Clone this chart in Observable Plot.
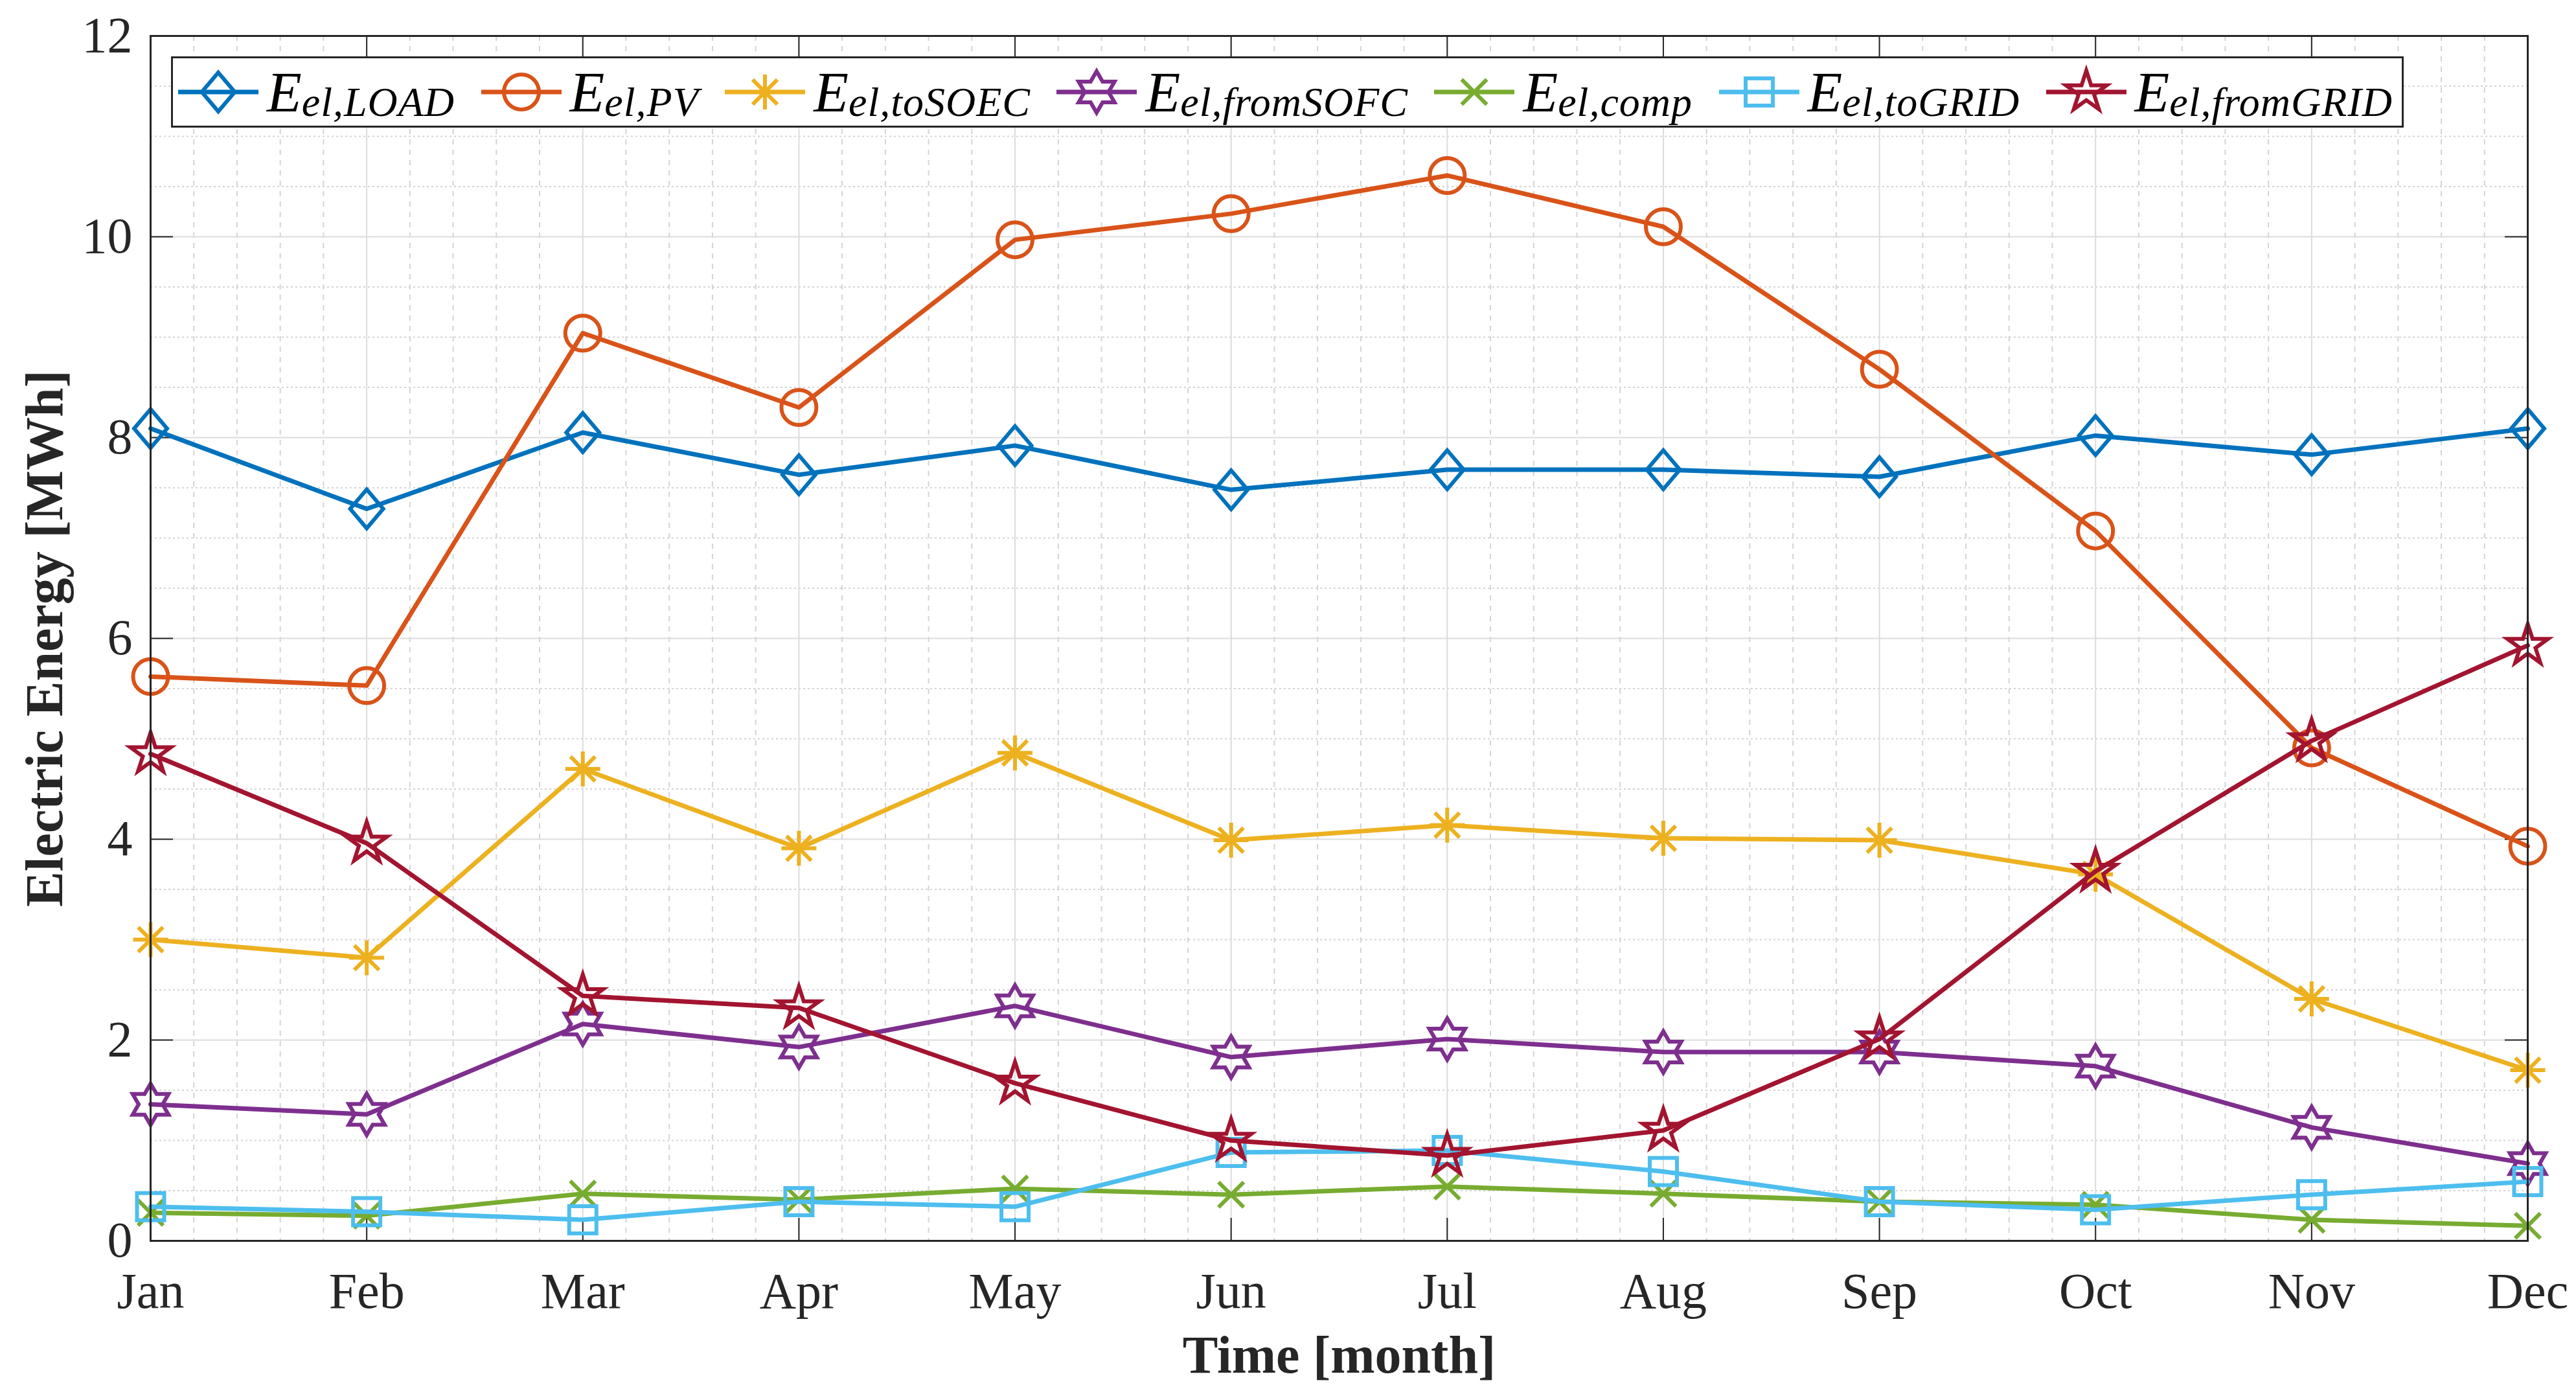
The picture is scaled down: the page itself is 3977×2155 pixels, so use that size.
<!DOCTYPE html>
<html><head><meta charset="utf-8">
<script src="https://cdn.jsdelivr.net/npm/d3@7"></script>
<script src="https://cdn.jsdelivr.net/npm/@observablehq/plot@0.6"></script>
<style>
html,body{margin:0;padding:0;background:#fff;}
#wrap{position:relative;width:3977px;height:2155px;overflow:hidden;background:#fff;}
#legend{position:absolute;left:264px;top:87px;width:3447px;height:110px;box-sizing:border-box;border:3px solid #262626;background:#fff;display:flex;align-items:center;justify-content:space-between;padding:0 14px 0 8px;font-family:"Liberation Serif",serif;font-style:italic;color:#000;}
.item{display:flex;align-items:center;white-space:nowrap;}
.item svg{margin-right:13px;}
.E{font-size:88px;}
.sub{font-size:64px;position:relative;top:16px;letter-spacing:1px;}
</style></head><body><div id="wrap"></div>
<script>
// ---- data ----
const months = ["Jan","Feb","Mar","Apr","May","Jun","Jul","Aug","Sep","Oct","Nov","Dec"];
const eLoad     = [8.09, 7.29, 8.05, 7.63, 7.92, 7.48, 7.68, 7.68, 7.61, 8.02, 7.83, 8.09];
const ePV       = [5.62, 5.53, 9.04, 8.30, 9.97, 10.23, 10.61, 10.10, 8.68, 7.07, 4.91, 3.93];
const eToSOEC   = [3.00, 2.82, 4.70, 3.91, 4.86, 3.99, 4.14, 4.01, 3.99, 3.65, 2.41, 1.70];
const eFromSOFC = [1.36, 1.26, 2.16, 1.93, 2.34, 1.83, 2.01, 1.88, 1.88, 1.74, 1.13, 0.77];
const eComp     = [0.28, 0.25, 0.47, 0.41, 0.52, 0.46, 0.54, 0.47, 0.39, 0.36, 0.21, 0.15];
const eToGRID   = [0.34, 0.29, 0.21, 0.39, 0.34, 0.88, 0.90, 0.69, 0.39, 0.31, 0.46, 0.59];
const eFromGRID = [4.85, 3.96, 2.44, 2.32, 1.57, 1.00, 0.85, 1.10, 2.01, 3.68, 4.98, 5.93];
const seriesSubs = ["el,LOAD","el,PV","el,toSOEC","el,fromSOFC","el,comp","el,toGRID","el,fromGRID"];
const seriesValues = [eLoad, ePV, eToSOEC, eFromSOFC, eComp, eToGRID, eFromGRID];
const yTicks = [0, 2, 4, 6, 8, 10, 12];
const xLabel = "Time [month]";
const yLabel = "Electric Energy [MWh]";

// ---- styles ----
const colors = ["#0072BD","#D95319","#EDB120","#7E2F8E","#77AC30","#4DBEEE","#A2142F"];
function mk(fn){ return {draw(ctx, size){ const r = Math.sqrt(size/Math.PI); fn(ctx, r); }}; }
function star(c, n, R, r0){ for(let k=0;k<2*n;k++){ const a=-Math.PI/2 + k*Math.PI/n; const rr = k%2===0?R:r0; const px=rr*Math.cos(a), py=rr*Math.sin(a); if(k===0) c.moveTo(px,py); else c.lineTo(px,py);} c.closePath(); }
const symDiamond = mk((c,r)=>{c.moveTo(0,-r);c.lineTo(r*0.85,0);c.lineTo(0,r);c.lineTo(-r*0.85,0);c.closePath();});
const symCircle  = mk((c,r)=>{c.moveTo(r,0);c.arc(0,0,r,0,2*Math.PI);c.closePath();});
const symAst     = mk((c,r)=>{for(let k=0;k<4;k++){const a=k*Math.PI/4;c.moveTo(r*Math.cos(a),r*Math.sin(a));c.lineTo(-r*Math.cos(a),-r*Math.sin(a));}});
const symHex     = mk((c,r)=>star(c,6,r,r/Math.sqrt(3)));
const symX       = mk((c,r)=>{const a=r*0.72;c.moveTo(-a,-a);c.lineTo(a,a);c.moveTo(a,-a);c.lineTo(-a,a);});
const symSquare  = mk((c,r)=>{c.moveTo(-r,-r);c.lineTo(r,-r);c.lineTo(r,r);c.lineTo(-r,r);c.closePath();});
const symPenta   = mk((c,r)=>star(c,5,r,r*0.382));
const symbols = [symDiamond, symCircle, symAst, symHex, symX, symSquare, symPenta];
const radii = [30, 27, 27, 32, 27, 21, 33];

const W=3977, H=2155, mL=232, mR=75, mT=55, mB=240;
const plotH = H-mT-mB, plotW = W-mL-mR;
const xIdx = months.map((_,i)=>i);
const xMinor = d3.range(0, 11.001, 0.2).filter(v => Math.abs(v-Math.round(v))>1e-6);
const yMinor = d3.range(0, 12.001, 0.5).filter(v => Math.abs(v/2-Math.round(v/2))>1e-6);

const seriesMarks = seriesValues.flatMap((vals, si) => {
  const d = vals.map((v,i)=>({x:i, y:v}));
  return [
    Plot.line(d, {x:"x", y:"y", stroke: colors[si], strokeWidth: 7, strokeLinejoin:"round"}),
    Plot.dot(d, {x:"x", y:"y", stroke: colors[si], strokeWidth: 6, fill: "none", symbol: symbols[si], r: radii[si]})
  ];
});

const chart = Plot.plot({
  width: W, height: H, marginLeft: mL, marginRight: mR, marginTop: mT, marginBottom: mB,
  style: {fontFamily: '"Liberation Serif", serif', fontSize: "78px", background: "#fff", color: "#262626"},
  x: {domain: [0, 11]},
  y: {domain: [0, 12]},
  marks: [
    Plot.ruleX(xMinor, {stroke:"#d4d4d4", strokeWidth:2, strokeDasharray:"8,8"}),
    Plot.ruleY(yMinor, {stroke:"#d4d4d4", strokeWidth:2, strokeDasharray:"3,4"}),
    Plot.ruleX(xIdx, {stroke:"#dcdcdc", strokeWidth:2}),
    Plot.ruleY(yTicks, {stroke:"#dcdcdc", strokeWidth:2}),
    Plot.ruleX(xIdx, {stroke:"#262626", strokeWidth:2, insetTop: plotH-35}),
    Plot.ruleX(xIdx, {stroke:"#262626", strokeWidth:2, insetBottom: plotH-35}),
    Plot.ruleY(yTicks, {stroke:"#262626", strokeWidth:2, insetRight: plotW-35}),
    Plot.ruleY(yTicks, {stroke:"#262626", strokeWidth:2, insetLeft: plotW-35}),
    ...seriesMarks,
    Plot.frame({stroke:"#262626", strokeWidth:3}),
    Plot.axisX({ticks: xIdx, tickFormat: i => months[i], tickSize: 0, tickPadding: 48, label: null, fontSize: 78}),
    Plot.axisY({ticks: yTicks, tickSize: 0, tickPadding: 28, label: null, fontSize: 78}),
    Plot.text([xLabel], {text: d=>d, frameAnchor:"bottom", textAnchor:"middle", lineAnchor:"middle", dy: 177, fontWeight:"bold", fontSize: 82, fill:"#262626"}),
    Plot.text([yLabel], {text: d=>d, frameAnchor:"left", textAnchor:"middle", lineAnchor:"middle", dx: -163, rotate: -90, fontWeight:"bold", fontSize: 82, fill:"#262626"})
  ]
});
const wrap = document.getElementById("wrap");
wrap.appendChild(chart);

// ---- legend ----
const legend = document.createElement("div");
legend.id = "legend";
seriesSubs.forEach((sub, si) => {
  const item = document.createElement("div");
  item.className = "item";
  const svgNS = "http://www.w3.org/2000/svg";
  const svg = document.createElementNS(svgNS, "svg");
  svg.setAttribute("width", 124); svg.setAttribute("height", 90);
  const line = document.createElementNS(svgNS, "line");
  line.setAttribute("x1", 0); line.setAttribute("x2", 124); line.setAttribute("y1", 45); line.setAttribute("y2", 45);
  line.setAttribute("stroke", colors[si]); line.setAttribute("stroke-width", 7);
  svg.appendChild(line);
  const p = d3.path();
  symbols[si].draw(p, radii[si]*radii[si]*Math.PI);
  const path = document.createElementNS(svgNS, "path");
  path.setAttribute("d", p.toString());
  path.setAttribute("transform", "translate(62,45)");
  path.setAttribute("fill", "none"); path.setAttribute("stroke", colors[si]); path.setAttribute("stroke-width", 6);
  svg.appendChild(path);
  item.appendChild(svg);
  const e = document.createElement("span"); e.className = "E"; e.textContent = "E";
  const s = document.createElement("span"); s.className = "sub"; s.textContent = sub;
  item.appendChild(e); item.appendChild(s);
  legend.appendChild(item);
});
wrap.appendChild(legend);
</script></body></html>
